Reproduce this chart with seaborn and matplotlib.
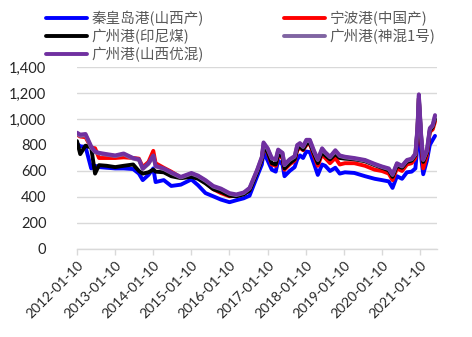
import matplotlib
matplotlib.use("Agg")
import matplotlib.pyplot as plt
import matplotlib.ticker as mticker
import seaborn as sns
import pandas as pd

dates = ["2012-01-10", "2012-02-10", "2012-04-01", "2012-05-25", "2012-07-01", "2012-08-08", "2012-10-20",
         "2013-01-10", "2013-04-01", "2013-07-01", "2013-08-25", "2013-10-01", "2013-11-25",
         "2014-01-10", "2014-02-01", "2014-04-20", "2014-07-01", "2014-10-01",
         "2015-01-10", "2015-03-15", "2015-05-25", "2015-08-08", "2015-10-20",
         "2016-01-10", "2016-03-15", "2016-05-25", "2016-07-20", "2016-10-01", "2016-11-15", "2016-12-01",
         "2017-01-10", "2017-02-18", "2017-03-28", "2017-04-20", "2017-06-01", "2017-06-20", "2017-08-08",
         "2017-09-25", "2017-10-20", "2017-11-15", "2017-12-15",
         "2018-01-15", "2018-02-18", "2018-03-28", "2018-05-05", "2018-06-15", "2018-07-15", "2018-08-30",
         "2018-10-20", "2018-12-01",
         "2019-01-20", "2019-04-20", "2019-08-01", "2019-11-01",
         "2020-01-10", "2020-03-15", "2020-04-20", "2020-06-01", "2020-07-20", "2020-09-05", "2020-10-20",
         "2020-11-25", "2020-12-15", "2020-12-28",
         "2021-01-20", "2021-02-08", "2021-03-15", "2021-04-12", "2021-05-10", "2021-06-01"]

qhd_shanxi = [810, 790, 785, 620, 640, 630, 625,
              620, 620, 615, 580, 530, 570,
              620, 515, 530, 485, 495,
              535, 490, 430, 405, 380,
              360, 375, 390, 410, 560, 650, 745,
              680, 610, 595, 680, 650, 560, 600,
              630, 690, 720, 700,
              750, 745, 660, 570, 650, 640, 600,
              625, 580,
              590, 585, 560, 540,
              530, 520, 470, 560, 540, 590, 595,
              620, 800, 1050,
              700, 575, 680, 800, 840, 870]

nb_china = [880, 865, 860, 780, 775, 700, 700,
            700, 705, 700, 695, 630, 670,
            755, 660, 625, 595, 550,
            575, 550, 510, 460, 430,
            405, 410, 425, 455, 600, 690, 790,
            740, 650, 640, 720, 700, 610, 650,
            680, 760, 780, 760,
            800, 810, 720, 640, 730, 700, 660,
            700, 650,
            660, 660, 640, 610,
            600, 580, 530, 620, 600, 650, 660,
            700, 900, 1150,
            820, 620, 720, 900, 920, 980]

gz_indo = [830, 730, 795, 780, 580, 645, 640,
           630, 640, 650, 600, 580, 590,
           610, 595, 590, 560, 545,
           555, 540, 505, 460, 440,
           410, 405, 420, 450, 590, 690, 790,
           745, 660, 650, 730, 710, 620, 660,
           690, 770, 790, 765,
           810, 815, 735, 660, 745, 720, 690,
           730, 700,
           695, 690, 675, 645,
           625, 605, 555, 640, 625, 670, 680,
           720, 920, 1160,
           850, 670, 740, 910, 940, 1000]

gz_shenhun1 = [885, 870, 875, 780, 745, 735, 725,
               715, 728, 695, 685, 615, 655,
               715, 635, 615, 585, 550,
               580, 560, 525, 480, 460,
               425, 415, 430, 465, 605, 705, 812,
               768, 695, 685, 758, 735, 645, 685,
               710, 795, 808, 785,
               832, 832, 752, 685, 768, 740, 705,
               752, 715,
               705, 695, 680, 650,
               630, 615, 570, 655, 635, 680, 690,
               728, 930, 1180,
               860, 685, 752, 922, 948, 1022]

gz_shanxi = [895, 880, 885, 790, 750, 740, 730,
             720, 735, 700, 690, 620, 660,
             720, 640, 620, 590, 555,
             585, 565, 530, 485, 465,
             430, 420, 435, 470, 610, 710, 820,
             775, 700, 690, 765, 740, 650, 690,
             715, 800, 815, 790,
             840, 840, 760, 690, 775, 745, 710,
             760, 720,
             710, 700, 685, 655,
             635, 620, 575, 660, 640, 685, 695,
             735, 940, 1190,
             870, 690, 760, 930, 955, 1030]

labels = ["秦皇岛港(山西产)", "宁波港(中国产)", "广州港(印尼煤)", "广州港(神混1号)", "广州港(山西优混)"]
colors = ["#0000FF", "#FF0000", "#000000", "#8064A2", "#7030A0"]
series = [qhd_shanxi, nb_china, gz_indo, gz_shenhun1, gz_shanxi]
xtick_labels = ["2012-01-10", "2013-01-10", "2014-01-10", "2015-01-10", "2016-01-10",
                "2017-01-10", "2018-01-10", "2019-01-10", "2020-01-10", "2021-01-10"]

sns.set_style("white")
plt.rcParams['font.family'] = ['Lato', 'Noto Sans CJK SC', 'DejaVu Sans']

fig = plt.figure(figsize=(4.72, 3.37), dpi=100)
ax = fig.add_axes([77/472, 1 - 249/337, (437 - 77)/472, (249 - 67)/337])

dt = pd.to_datetime(dates)
for lab, col, vals in zip(labels, colors, series):
    df = pd.DataFrame({"date": dt, "value": vals})
    sns.lineplot(data=df, x="date", y="value", ax=ax, color=col, linewidth=2.8, label=lab)

ax.set_ylim(0, 1400)
ax.set_yticks(range(0, 1401, 200))
ax.yaxis.set_major_formatter(mticker.FuncFormatter(lambda v, p: f"{int(v):,}"))
ax.set_xlim(pd.Timestamp("2012-01-10"), pd.Timestamp("2021-06-20"))
xt = pd.to_datetime(xtick_labels)
ax.set_xticks(xt)
ax.set_xticklabels(xtick_labels, rotation=45, ha="right", rotation_mode="anchor")
ax.set_xlabel("")
ax.set_ylabel("")
ax.grid(axis="y", color="#d9d9d9", linewidth=1)
ax.set_axisbelow(True)
for s in ["top", "right", "left"]:
    ax.spines[s].set_visible(False)
ax.spines["bottom"].set_color("#d9d9d9")
ax.spines["bottom"].set_linewidth(1)
ax.tick_params(axis="x", which="major", length=4, color="#d9d9d9", width=1, labelsize=10,
               labelcolor="#262626", pad=3, bottom=True, direction="out")
ax.tick_params(axis="y", length=0, labelsize=10.5, labelcolor="#262626", pad=22)

h, l = ax.get_legend_handles_labels()
ax.get_legend().remove()
order = [0, 2, 4, 1, 3]
leg = fig.legend([h[i] for i in order], [l[i] for i in order], ncol=2,
                 loc="upper left", bbox_to_anchor=(46/472, 1 - 11/337), frameon=False,
                 prop={"family": ["Noto Sans CJK SC", "DejaVu Sans"], "size": 10.5},
                 handlelength=2.8, handletextpad=0.35, columnspacing=5.45, labelspacing=0.2,
                 borderaxespad=0, borderpad=0)
for t in leg.get_texts():
    t.set_color("#595959")

fig.savefig("out.png", dpi=100)
